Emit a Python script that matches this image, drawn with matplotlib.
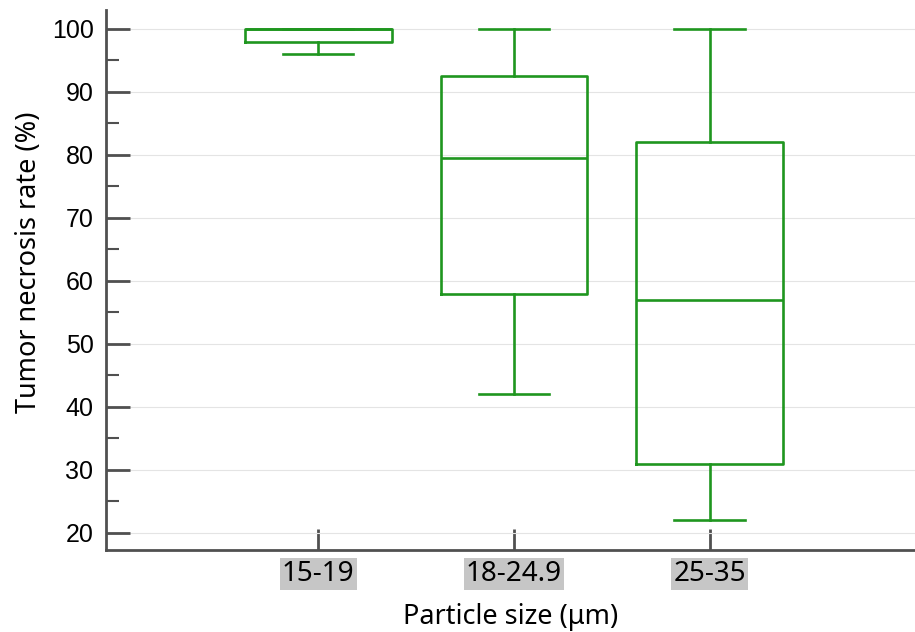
import matplotlib.pyplot as plt
import matplotlib
from matplotlib.ticker import MultipleLocator

matplotlib.rcParams['font.family'] = ['Liberation Sans', 'DejaVu Sans']

# 数据
groups = ['15-19', '18-24.9', '25-35']
whis_low = [96, 42, 22]
q1 = [98, 58, 31]
median = [100, 79.5, 57]
q3 = [100, 92.5, 82]
whis_high = [100, 100, 100]

green = '#1f961f'

fig = plt.figure(figsize=(9.15, 6.32), dpi=100)
ax = fig.add_axes([106 / 915, 1 - 550 / 632, 1 - 106 / 915, 540 / 632])

stats = []
for i, g in enumerate(groups):
    stats.append({'label': g, 'whislo': whis_low[i], 'q1': q1[i], 'med': median[i],
                  'q3': q3[i], 'whishi': whis_high[i], 'fliers': []})

line_kw = dict(color=green, linewidth=1.9)
ax.bxp(stats, positions=[1, 2, 3], widths=0.75, showfliers=False,
       boxprops=line_kw, medianprops=line_kw, whiskerprops=line_kw,
       capprops=line_kw, capwidths=0.36)

ax.set_xlim(-0.085, 4.05)
ax.set_ylim(17.3, 103.0)

# 坐标轴样式
for s in ['top', 'right']:
    ax.spines[s].set_visible(False)
for s in ['left', 'bottom']:
    ax.spines[s].set_color('#505050')
    ax.spines[s].set_linewidth(2)

ax.yaxis.set_major_locator(MultipleLocator(10))
ax.yaxis.set_minor_locator(MultipleLocator(5))
ax.tick_params(axis='y', which='major', direction='in', length=17, width=2,
               color='#505050', labelsize=18, pad=9)
ax.tick_params(axis='y', which='minor', direction='in', length=9, width=1.5,
               color='#505050')
ax.tick_params(axis='x', direction='in', length=15, width=2, color='#505050',
               labelsize=20, pad=7)
ax.grid(axis='y', color='#e4e4e4', linestyle='-', linewidth=0.8)
ax.set_axisbelow(True)

for lab in ax.get_xticklabels():
    lab.set_family(['Noto Sans', 'DejaVu Sans'])
    lab.set_bbox(dict(boxstyle='square,pad=0.08', facecolor='#c6c6c6', edgecolor='none'))

ax.set_ylabel('Tumor necrosis rate (%)', fontsize=19.5, family=['Noto Sans', 'DejaVu Sans'],
              labelpad=6)
ax.yaxis.label.set_y(0.533)
ax.set_xlabel('Particle size (μm)', fontsize=19.5, family=['Noto Sans', 'DejaVu Sans'],
              labelpad=11)

fig.savefig('out.png', dpi=100)
